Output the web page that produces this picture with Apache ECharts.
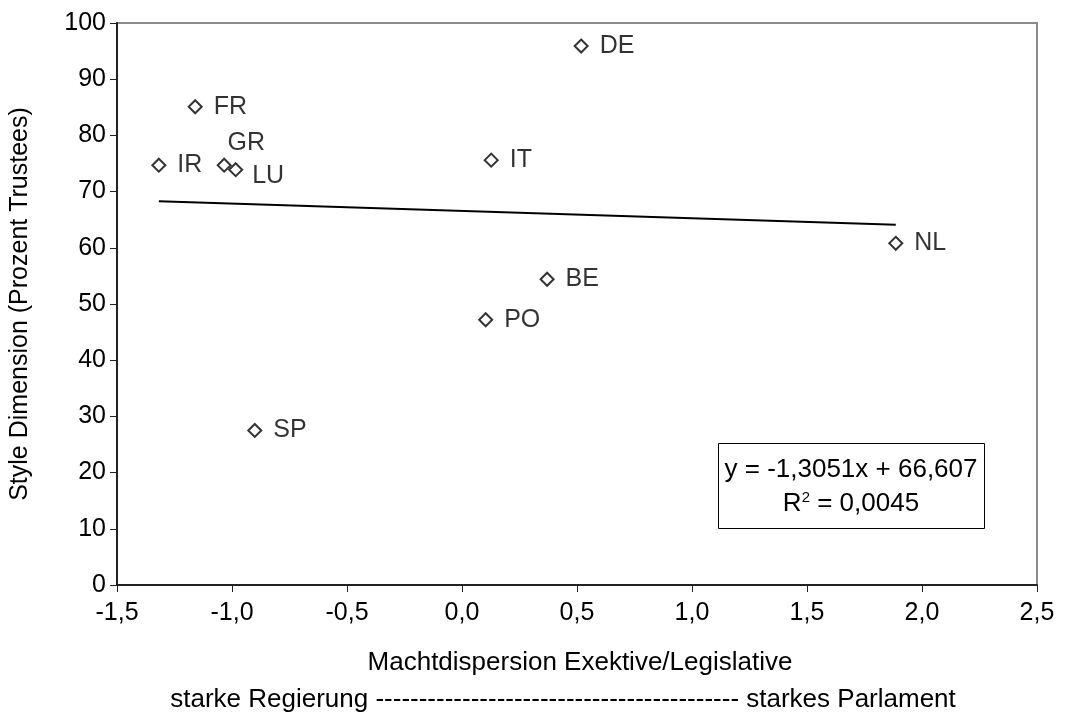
<!DOCTYPE html>
<html>
<head>
<meta charset="utf-8">
<script src="https://cdn.jsdelivr.net/npm/echarts@6/dist/echarts.min.js"></script>
<style>
  html, body { margin: 0; padding: 0; background: #fff; }
  #main { width: 1066px; height: 718px; }
</style>
</head>
<body>
<div id="main"></div>
<script>
// Länder und Werte
var countries = ["DE", "FR", "IR", "GR", "LU", "IT", "NL", "BE", "PO", "SP"];
var machtDispersion = [0.518, -1.16, -1.318, -1.034, -0.984, 0.127, 1.886, 0.370, 0.103, -0.901];
var trusteesPct = [95.9, 85.1, 74.7, 74.7, 73.9, 75.6, 60.8, 54.4, 47.2, 27.5];
// Trendlinie Endpunkte
var trendX = [-1.318, 1.886];
var trendY = [68.3, 64.1];
var equationText = ["y = -1,3051x + 66,607", "R{sup|2} = 0,0045"];

var FONT = "'Liberation Sans', Arial, sans-serif";
var FS = 25;      // Ticks, Punktlabels
var FS_T = 26;    // Titel, Gleichung

var pointData = [];
for (var i = 0; i < countries.length; i++) {
  var lbl = { position: "right", distance: 11 };
  if (countries[i] === "GR") {
    lbl = { position: "top", distance: 2, offset: [22, 0] };
  }
  if (countries[i] === "LU") {
    lbl = { position: "right", distance: 9, offset: [0, 6] };
  }
  pointData.push({
    value: [machtDispersion[i], trusteesPct[i]],
    name: countries[i],
    label: lbl
  });
}

var trendData = [];
for (var j = 0; j < trendX.length; j++) {
  trendData.push([trendX[j], trendY[j]]);
}

var myChart = echarts.init(document.getElementById("main"));
var option = {
  animation: false,
  textStyle: { fontFamily: FONT },
  grid: {
    left: 116,
    right: 29,
    top: 23,
    bottom: 133,
    show: true,
    borderColor: "#8c8c8c",
    borderWidth: 2
  },
  xAxis: {
    type: "value",
    min: -1.5,
    max: 2.5,
    interval: 0.5,
    axisLine: { show: true, onZero: false, lineStyle: { color: "#222", width: 2 } },
    axisTick: { show: true, length: 7, lineStyle: { color: "#222", width: 1 } },
    splitLine: { show: false },
    axisLabel: {
      color: "#000",
      fontSize: FS,
      fontFamily: FONT,
      margin: 16,
      formatter: function (v) { return v.toFixed(1).replace(".", ","); }
    }
  },
  yAxis: {
    type: "value",
    min: 0,
    max: 100,
    interval: 10,
    name: "Style Dimension (Prozent Trustees)",
    nameLocation: "middle",
    nameGap: 84,
    nameTextStyle: { color: "#000", fontSize: FS, fontFamily: FONT },
    axisLine: { show: true, onZero: false, lineStyle: { color: "#222", width: 2 } },
    axisTick: { show: true, length: 7, lineStyle: { color: "#222", width: 1 } },
    splitLine: { show: false },
    axisLabel: { color: "#000", fontSize: FS, fontFamily: FONT, margin: 11 }
  },
  graphic: [
    {
      type: "text",
      x: 580,
      y: 663,
      style: {
        text: "Machtdispersion Exektive/Legislative",
        font: FS_T + "px " + FONT,
        fill: "#000",
        align: "center",
        verticalAlign: "middle"
      }
    },
    {
      type: "text",
      x: 563,
      y: 700,
      style: {
        text: "starke Regierung ------------------------------------------ starkes Parlament",
        font: FS_T + "px " + FONT,
        fill: "#000",
        align: "center",
        verticalAlign: "middle"
      }
    },
    {
      type: "rect",
      shape: { x: 718.5, y: 443.5, width: 266, height: 85 },
      style: { fill: "#fff", stroke: "#000", lineWidth: 1 }
    },
    {
      type: "text",
      x: 851,
      y: 470,
      style: {
        text: equationText[0],
        font: FS_T + "px " + FONT,
        fill: "#000",
        align: "center",
        verticalAlign: "middle"
      }
    },
    {
      type: "text",
      x: 851,
      y: 504,
      style: {
        text: equationText[1],
        font: FS_T + "px " + FONT,
        fill: "#000",
        align: "center",
        verticalAlign: "middle",
        rich: {
          sup: { fontSize: 15, verticalAlign: "top", padding: [0, 0, 12, 0], fontFamily: FONT }
        }
      }
    }
  ],
  series: [
    {
      name: "Trend",
      type: "line",
      data: trendData,
      symbol: "none",
      lineStyle: { color: "#000", width: 2 },
      z: 2
    },
    {
      name: "Länder",
      type: "scatter",
      data: pointData,
      symbol: "diamond",
      symbolSize: [13, 13],
      itemStyle: { color: "#fff", borderColor: "#000", borderWidth: 2 },
      label: {
        show: true,
        formatter: "{b}",
        color: "#000",
        fontSize: FS,
        fontFamily: FONT
      },
      z: 3
    }
  ]
};
myChart.setOption(option);
</script>
</body>
</html>
